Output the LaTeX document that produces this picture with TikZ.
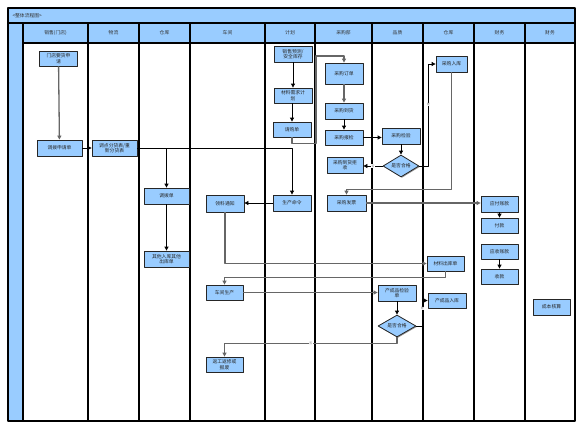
\documentclass[tikz,border=0pt]{standalone}
\usepackage{fontspec}
\newfontfamily\cjk{Noto Sans CJK SC}
\usetikzlibrary{arrows.meta,shapes.geometric,shadows}
\definecolor{lane}{HTML}{99CCFF}
\definecolor{boxfill}{HTML}{99CCFF}
\tikzset{
	box/.style={draw=black!85,fill=boxfill,line width=0.8pt,inner sep=0.5pt,align=center,
		font=\cjk\fontsize{4.8}{5.6}\selectfont,text=black!85,
		drop shadow={shadow xshift=0.9pt,shadow yshift=-0.9pt,fill=black!40,opacity=1}},
	check/.style={box,diamond,aspect=1.7,inner sep=0pt},
	flow/.style={draw=black!60,line width=1.3pt,-{Triangle[length=4pt,width=4pt]}},
	flowk/.style={flow,draw=black,line width=0.8pt},
	yesno/.style={font=\cjk\fontsize{3}{3}\selectfont,text=black!50,fill=white,inner sep=0.3pt},
	head/.style={font=\cjk\fontsize{4.8}{5.6}\selectfont,text=black!80}
}
\begin{document}
\begin{tikzpicture}[x=1pt,y=-1pt,line join=round]
		\useasboundingbox (0,0) rectangle (584,431);
		\def\top{23}%dòng tiêu đề
		\def\hd{43}%dòng tên cột
		\def\bot{421}
		%========khung, tiêu đề
		\fill[lane] (8,8) rectangle (575,\top);
		\fill[lane] (23,\top) rectangle (575,\hd);
		\fill[lane] (8,\top) rectangle (23,\bot);
		\draw[line width=1.1pt] (8,8) rectangle (575,\bot);
		\draw[line width=1.1pt] (8,\top) -- (575,\top) (23,\hd) -- (575,\hd);
		\node[head,anchor=west] (title) at (9,15.5) {<整体流程图>};
		%========các làn
		\foreach \x in {23,88,139,190,265,315,372,423,474,525}
		\draw[line width=1.1pt] (\x,\top) -- (\x,\bot);
		\foreach \a/\b/\t [count=\i] in {23/88/销售(门店),88/139/物流,139/190/仓库,190/265/车间,
			265/315/计划,315/372/采购部,372/423/品质,423/474/仓库,474/525/财务,525/575/财务}
		\node[head] (lane\i) at ({(\a+\b)/2},33) {\t};
		%========các bước
		\node[box,minimum width=38pt,minimum height=15pt] (req) at (58.5,58.5) {门店要货申\\请};
		\node[box,minimum width=45pt,minimum height=16pt] (appl) at (59.5,148) {调拨申请单};
		\node[box,minimum width=45pt,minimum height=16pt] (dist) at (114.5,148) {调点分货表/重\\新分货表};
		\node[box,minimum width=45pt,minimum height=16pt] (trf) at (166.5,196) {调拨单};
		\node[box,minimum width=45pt,minimum height=16pt] (other) at (166.5,259) {其他入库其他\\出库单};
		\node[box,minimum width=38pt,minimum height=17pt] (pick) at (225,203.5) {领料通知};
		\node[box,minimum width=37pt,minimum height=15pt] (prod) at (224.5,292.5) {车间生产};
		\node[box,minimum width=37pt,minimum height=15pt] (rwk) at (224.5,364.5) {返工返修或\\报废};
		\node[box,minimum width=38pt,minimum height=16pt] (fore) at (293,54) {销售预测/\\安全库存};
		\node[box,minimum width=38pt,minimum height=15pt] (mrp) at (293,95.5) {材料需求计\\划};
		\node[box,minimum width=38pt,minimum height=15pt] (preq) at (292,129.5) {请购单};
		\node[box,minimum width=38pt,minimum height=16pt] (cmd) at (292,203) {生产命令};
		\node[box,minimum width=38pt,minimum height=21pt] (po) at (344,73.5) {采购订单};
		\node[box,minimum width=38pt,minimum height=16pt] (arr) at (344,111) {采购到货};
		\node[box,minimum width=38pt,minimum height=15pt] (insp) at (344,137.5) {采购报检};
		\node[box,minimum width=36pt,minimum height=16pt] (rej) at (345,165) {采购到货拒\\收};
		\node[box,minimum width=39pt,minimum height=16pt] (inv) at (346.5,203) {采购发票};
		\node[box,minimum width=38pt,minimum height=16pt] (qc) at (401,136) {采购检验};
		\node[check,minimum width=36pt,minimum height=22pt] (ok1) at (401,166) {是否合格};
		\node[box,minimum width=38pt,minimum height=16pt] (fqc) at (397,293) {产成品检验\\单};
		\node[check,minimum width=38pt,minimum height=22pt] (ok2) at (397,326) {是否合格};
		\node[box,minimum width=31pt,minimum height=16pt] (stin) at (451.5,64) {采购入库};
		\node[box,minimum width=37pt,minimum height=15pt] (mout) at (445.5,263.5) {材料出库单};
		\node[box,minimum width=38pt,minimum height=15pt] (fin) at (447,300.5) {产成品入库};
		\node[box,minimum width=37pt,minimum height=16pt] (ap) at (499.5,204) {应付账款};
		\node[box,minimum width=37pt,minimum height=15pt] (pay) at (499.5,225.5) {付款};
		\node[box,minimum width=37pt,minimum height=15pt] (ar) at (499.5,251.5) {应收账款};
		\node[box,minimum width=37pt,minimum height=15pt] (rec) at (499.5,276.5) {收款};
		\node[box,minimum width=37pt,minimum height=16pt] (cost) at (551.5,307) {成本核算};
		%========đường nối
		\draw[flow] (req) -- (appl);
		\draw[flowk] (appl) -- (dist);
		\draw[flowk] (dist.east) -| (cmd.north);
		\draw[flowk] (trf.north |- dist.east) -- (trf.north);
		\draw[flowk] (trf) -- (other);
		\draw[flowk] (fore) -- (mrp);
		\draw[flowk] (mrp.south -| preq.north) -- (preq.north);
		\draw[flow] (preq.south) -- ++(0,6) -| (316,56) -| (po.north);
		\draw[flow] (po) -- (arr);
		\draw[flowk] (arr) -- (insp);
		\draw[flowk] (insp.east) -- (insp.east -| qc.west);
		\draw[flowk] (qc) -- (ok1);
		\draw[flowk] (ok1.west) -- node[yesno] (no1) {否} (rej.east |- ok1.west);
		\draw[flowk] (ok1.east) -- ++(9,0) |- node[yesno,pos=0.3] (yes1) {是} (stin.west);
		\draw[flow] (stin.south) -- ++(0,117) -| (inv.north);
		\draw[flow] (inv.east) -- (inv.east -| ap.west);
		\draw[flowk] (ap) -- (pay);
		\draw[flowk] (ar) -- (rec);
		\draw[flowk] (cmd.west) -- (cmd.west -| pick.east);
		\draw[flow] (pick.south) |- (mout.west);
		\draw[flow] (mout.south) -- ++(0,6) -| (prod.north);
		\draw[flow] (prod.east) -- (prod.east -| fqc.west);
		\draw[flowk] (fqc) -- (ok2);
		\draw[flow] (ok2.south) -- ++(0,6) -| node[yesno,pos=0.25] (no2) {否} (rwk.north);
		\draw[flowk] (ok2.east) -- ++(6,0) |- node[yesno,pos=0.35] (yes2) {是} (fin.west);
		\end{tikzpicture}
\end{document}
